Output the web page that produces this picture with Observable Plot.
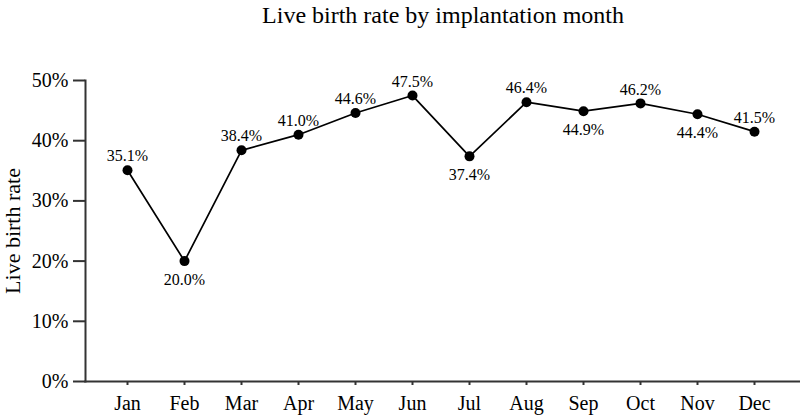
<!DOCTYPE html>
<html><head><meta charset="utf-8">
<script src="https://cdn.jsdelivr.net/npm/d3@7"></script>
<script src="https://cdn.jsdelivr.net/npm/@observablehq/plot@0.6"></script>
<style>body{margin:0;background:#fff;} svg{font-family:"Liberation Serif",serif;}</style>
</head><body><div id="chart"></div>
<script>
const months = ["Jan","Feb","Mar","Apr","May","Jun","Jul","Aug","Sep","Oct","Nov","Dec"];
const rates = [35.1, 20.0, 38.4, 41.0, 44.6, 47.5, 37.4, 46.4, 44.9, 46.2, 44.4, 41.5];
const labelsBelow = ["Feb","Jul","Sep","Nov"];
const yTicks = [0, 10, 20, 30, 40, 50];
const title = "Live birth rate by implantation month";
const yLabel = "Live birth rate";

const data = months.map((m, i) => ({month: m, rate: rates[i] / 100}));
const fmt = d => (d.rate * 100).toFixed(1) + "%";

const plot = Plot.plot({
  width: 800, height: 415,
  marginTop: 80, marginBottom: 34, marginLeft: 85, marginRight: 0,
  style: {fontFamily: "Liberation Serif, serif", fontSize: "20px", color: "#000", background: "#fff"},
  x: {type: "point", domain: months, range: [123, 758], padding: 0},
  y: {domain: [0, 0.5]},
  marks: [
    Plot.axisY(yTicks.map(t => t / 100), {tickSize: 12, tickPadding: 5, tickFormat: d => Math.round(d * 100) + "%", label: null, fontSize: 20, stroke: "#333", strokeWidth: 2}),
    Plot.axisX({tickSize: 4, tickPadding: 10, label: null, fontSize: 20, stroke: "#333", strokeWidth: 2}),
    Plot.frame({anchor: "left", stroke: "#333", strokeWidth: 2}),
    Plot.frame({anchor: "bottom", stroke: "#333", strokeWidth: 2}),
    Plot.line(data, {x: "month", y: "rate", stroke: "#000", strokeWidth: 1.7}),
    Plot.dot(data, {x: "month", y: "rate", r: 5, fill: "#000"}),
    Plot.text(data.filter(d => !labelsBelow.includes(d.month)), {x: "month", y: "rate", text: fmt, dy: -14, fontSize: 16, fill: "#000"}),
    Plot.text(data.filter(d => labelsBelow.includes(d.month)), {x: "month", y: "rate", text: fmt, dy: 18.5, fontSize: 16, fill: "#000"}),
    Plot.text([title], {frameAnchor: "top", dy: -75, fontSize: 24, fill: "#000"}),
    Plot.text([yLabel], {frameAnchor: "left", textAnchor: "middle", rotate: -90, dx: -73, dy: 0, fontSize: 22, fill: "#000"})
  ]
});
document.getElementById("chart").append(plot);
</script>
</body></html>
